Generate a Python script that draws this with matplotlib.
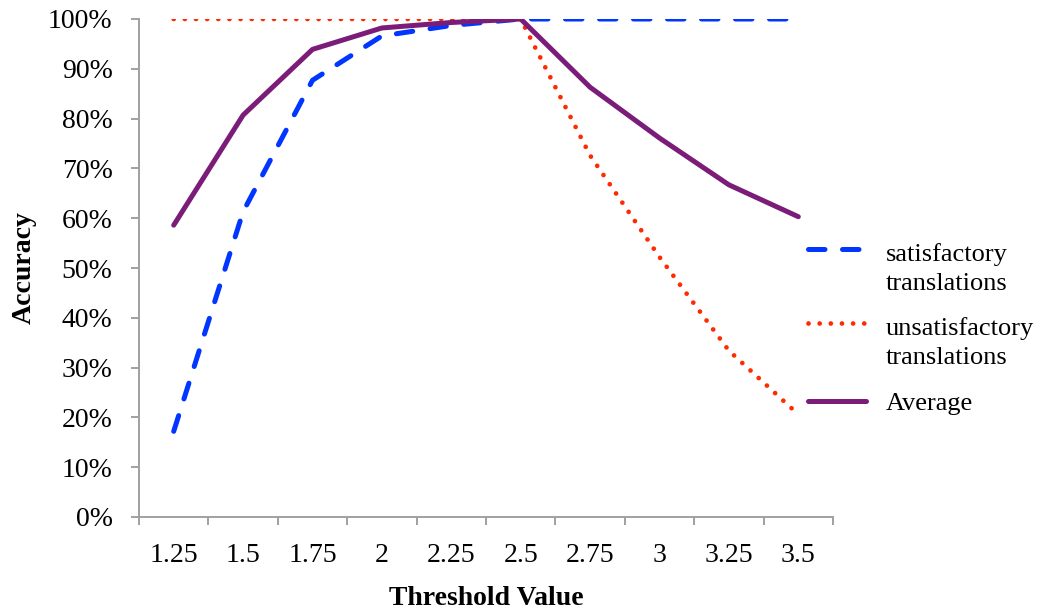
import matplotlib
matplotlib.use('Agg')
from matplotlib import pyplot as plt
from matplotlib.ticker import FixedLocator, NullFormatter, FixedFormatter

plt.rcParams['font.family'] = ['Liberation Serif', 'DejaVu Serif']

thresholds = ['1.25', '1.5', '1.75', '2', '2.25', '2.5', '2.75', '3', '3.25', '3.5']
satisfactory = [17.2, 61.3, 87.7, 96.6, 98.7, 100, 100, 100, 100, 100]
unsatisfactory = [100, 100, 100, 100, 100, 100, 72.6, 52.2, 33.4, 20.6]
average = [58.6, 80.7, 93.9, 98.2, 99.3, 100, 86.3, 76.1, 66.7, 60.3]

labels = ['satisfactory\ntranslations', 'unsatisfactory\ntranslations', 'Average']

gray = '#a0a0a0'
x = list(range(len(thresholds)))

fig = plt.figure(figsize=(10.42, 6.13), dpi=100)
ax = fig.add_axes([139/1042, 1 - 517/613, 694/1042, 498/613])

ax.plot(x, satisfactory, color='#0036ff', lw=3.6, dashes=(3.3, 3.5),
        dash_capstyle='round', label=labels[0])
ax.plot(x, unsatisfactory, color='#ff2a00', lw=3.4, dashes=(0.01, 2.35),
        dash_capstyle='round', label=labels[1])
ax.plot(x, average, color='#7a1c78', lw=3.6, solid_capstyle='round',
        label=labels[2])

ax.set_xlim(-0.5, len(thresholds) - 0.5)
ax.set_ylim(0, 100)

# category boundaries get the tick marks, centres get the labels
ax.xaxis.set_major_locator(FixedLocator([i - 0.5 for i in range(len(thresholds) + 1)]))
ax.xaxis.set_major_formatter(NullFormatter())
ax.xaxis.set_minor_locator(FixedLocator(x))
ax.xaxis.set_minor_formatter(FixedFormatter(thresholds))
ax.tick_params(axis='x', which='major', length=6, width=1.4, color=gray, direction='out')
ax.tick_params(axis='x', which='minor', length=0, pad=19, labelsize=20)

yticks = list(range(0, 101, 10))
ax.set_yticks(yticks)
ax.set_yticklabels([f'{v}%' for v in yticks])
ax.tick_params(axis='y', length=6, width=1.4, color=gray, direction='out', pad=13, labelsize=20)

for side in ['top', 'right']:
    ax.spines[side].set_visible(False)
for side in ['left', 'bottom']:
    ax.spines[side].set_color(gray)
    ax.spines[side].set_linewidth(1.4)

ax.set_xlabel('Threshold Value', fontsize=20, fontweight='bold', labelpad=13)
ax.set_ylabel('Accuracy', fontsize=20, fontweight='bold', labelpad=8)

leg = ax.legend(loc='center left', bbox_to_anchor=(808/1042, 1 - 329/613),
                bbox_transform=fig.transFigure, frameon=False, fontsize=19,
                handlelength=2.2, handletextpad=0.75, labelspacing=0.85,
                borderpad=0, borderaxespad=0)
for t in leg.get_texts():
    t.set_linespacing(1.4)
# put the handle next to the first line of a two-line label
for h, lab in zip(leg.legend_handles, labels):
    if '\n' in lab:
        y = h.get_ydata()
        h.set_ydata([v + 14 for v in y])

fig.savefig('out.png', dpi=100)
